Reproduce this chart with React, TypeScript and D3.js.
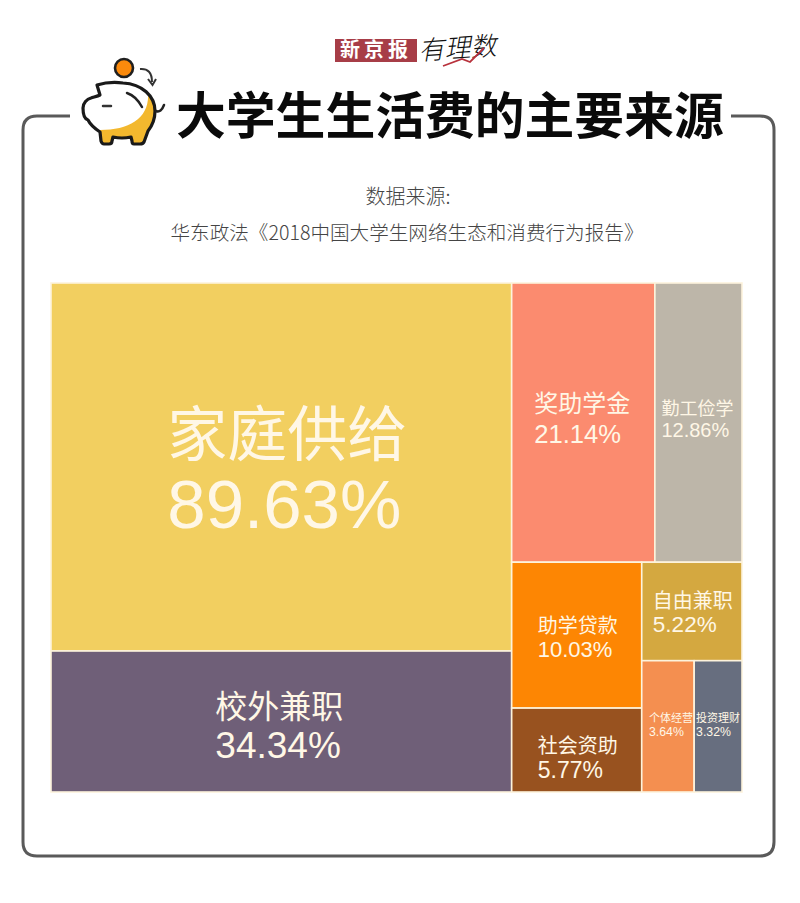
import React from "react";
import * as d3 from "d3";

const CJK = '"Noto Sans CJK SC", sans-serif';
const LATIN = '"Liberation Sans", Arial, sans-serif';

const title = "大学生生活费的主要来源";
const sourceLines = ["数据来源:", "华东政法《2018中国大学生网络生态和消费行为报告》"];
const brandName = "新京报";
const brandTag = "有理数";

const leftNames = ["家庭供给", "校外兼职"];
const leftValues = [89.63, 34.34];
const topRightNames = ["奖助学金", "勤工俭学"];
const topRightValues = [21.14, 12.86];
const midNames = ["助学贷款", "社会资助"];
const midValues = [10.03, 5.77];
const sideTopNames = ["自由兼职"];
const sideTopValues = [5.22];
const sideBottomNames = ["个体经营", "投资理财"];
const sideBottomValues = [3.64, 3.32];

const colors: Record<string, string> = {
  家庭供给: "#f2cf60",
  校外兼职: "#6f5f78",
  奖助学金: "#fb8b6f",
  勤工俭学: "#bdb6a9",
  助学贷款: "#fd8603",
  社会资助: "#98521f",
  自由兼职: "#d4a840",
  个体经营: "#f48f50",
  投资理财: "#676e7f",
};

// label styling: cn size, number size, x offset from cell centre, cn baseline / number baseline offset from cell centre
const labelStyle: Record<string, [number, number, number, number, number]> = {
  家庭供给: [60, 69, 6, -11, 61],
  校外兼职: [32, 37, -2, -4, 36],
  奖助学金: [24, 25.6, -1, -11, 20],
  勤工俭学: [18, 20, -1, -8, 14],
  助学贷款: [20, 22, 1, -2, 22],
  社会资助: [20, 23, 1, 3, 28],
  自由兼职: [20, 22.5, 1, -3, 21],
  个体经营: [11, 12.3, 3, -4, 10],
  投资理财: [11, 12.3, 0, -4, 10],
};

const leaves = (names: string[], values: number[]) =>
  names.map((name, i) => ({ name, value: values[i] }));

const treeData = {
  name: "root",
  children: [
    { name: "left", children: leaves(leftNames, leftValues) },
    {
      name: "right",
      children: [
        { name: "top", children: leaves(topRightNames, topRightValues) },
        {
          name: "bottom",
          children: [
            { name: "mid", children: leaves(midNames, midValues) },
            {
              name: "side",
              children: [
                { name: "sideTop", children: leaves(sideTopNames, sideTopValues) },
                { name: "sideBottom", children: leaves(sideBottomNames, sideBottomValues) },
              ],
            },
          ],
        },
      ],
    },
  ],
};

const X0 = 51, Y0 = 283, X1 = 742, Y1 = 792;

const tile = (node: any, x0: number, y0: number, x1: number, y1: number) => {
  const name = node.data.name;
  const horizontal = ["root", "top", "bottom", "sideBottom"].includes(name);
  (horizontal ? d3.treemapDice : d3.treemapSlice)(node, x0, y0, x1, y1);
};

const root = d3
  .treemap<any>()
  .tile(tile as any)
  .size([X1 - X0, Y1 - Y0])
  .round(false)(d3.hierarchy<any>(treeData).sum((d: any) => d.value || 0));

const Piggy = () => (
  <g>
    <defs>
      <clipPath id="pigClip">
        <path id="pigBody" d="M97 85 C107 82 115 82 123 83 C142 84 155 96 155 111 C155 119 152 126 148 131 L144 142 Q143 144 140 144 L134 144 Q132 144 132 141 L131 137 Q122 139 113 137 L112 141 Q112 144 109 144 L104 144 Q102 144 101 141 L100 132 C94 128 90 124 88 120 C84 119 83 114 83 108 C83 103 87 99 91 98 C94 97 98 96 100 95 Z" />
      </clipPath>
    </defs>
    <path d="M97 85 C107 82 115 82 123 83 C142 84 155 96 155 111 C155 119 152 126 148 131 L144 142 Q143 144 140 144 L134 144 Q132 144 132 141 L131 137 Q122 139 113 137 L112 141 Q112 144 109 144 L104 144 Q102 144 101 141 L100 132 C94 128 90 124 88 120 C84 119 83 114 83 108 C83 103 87 99 91 98 C94 97 98 96 100 95 Z" fill="#fff" />
    <g clipPath="url(#pigClip)">
      <path d="M148 92 C150 118 130 130 100 130 L96 150 L160 150 L162 92 Z" fill="#f3b82e" />
    </g>
    <path d="M97 85 C107 82 115 82 123 83 C142 84 155 96 155 111 C155 119 152 126 148 131 L144 142 Q143 144 140 144 L134 144 Q132 144 132 141 L131 137 Q122 139 113 137 L112 141 Q112 144 109 144 L104 144 Q102 144 101 141 L100 132 C94 128 90 124 88 120 C84 119 83 114 83 108 C83 103 87 99 91 98 C94 97 98 96 100 95 Z" fill="none" stroke="#1a1a1a" strokeWidth={3.2} strokeLinejoin="round" />
    <path d="M103 106 L111 106" stroke="#333" strokeWidth={2.5} strokeLinecap="round" />
    <path d="M127 93 Q136 96 142 107" fill="none" stroke="#222" strokeWidth={2.5} strokeLinecap="round" />
    <path d="M156 111 Q161 113 164 105" fill="none" stroke="#222" strokeWidth={2.5} strokeLinecap="round" />
    <circle cx={124} cy={68} r={9} fill="#fb8a0c" stroke="#1f1f1f" strokeWidth={2.6} />
    <path d="M140 69 Q152 68 152 82" fill="none" stroke="#333" strokeWidth={2} />
    <path d="M148 79 L152.5 85 L156 79" fill="none" stroke="#333" strokeWidth={2} />
  </g>
);

export default function App() {
  return (
    <svg
      width={800}
      height={903}
      viewBox="0 0 800 903"
      style={{ position: "absolute", left: 0, top: 0, background: "#fff" }}
    >
      <path
        d="M70 116 L37 116 Q23 116 23 130 L23 842 Q23 856 37 856 L760 856 Q774 856 774 842 L774 130 Q774 116 760 116 L731 116"
        fill="none"
        stroke="#5a5a5a"
        strokeWidth={3}
      />
      <rect x={335} y={39} width={82} height={23} fill="#a73d47" />
      <text x={376} y={57} textAnchor="middle" fontFamily={CJK} fontWeight={700} fontSize={20} letterSpacing={4} fill="#fff">
        {brandName}
      </text>
      <text x={420} y={60} transform="rotate(-4 420 60) skewX(-14)" dx={14} fontFamily={CJK} fontWeight={300} fontSize={26} fill="#111">
        {brandTag}
      </text>
      <path d="M443 66 L462 59 L470 62 L484 48" fill="none" stroke="#b8323c" strokeWidth={1.8} />
      <Piggy />
      <text x={176} y={134} fontFamily={CJK} fontWeight={700} fontSize={49.8} fill="#0a0a0a">
        {title}
      </text>
      <text x={408} y={204} textAnchor="middle" fontFamily={CJK} fontWeight={300} fontSize={20} fill="#444">
        {sourceLines[0]}
      </text>
      <text x={407} y={240} textAnchor="middle" fontFamily={CJK} fontWeight={300} fontSize={19.6} fill="#444">
        {sourceLines[1]}
      </text>
      <g transform={`translate(${X0},${Y0})`}>
        {root.leaves().map((n: any) => {
          const name = n.data.name as string;
          const [fs, ns, dx, cy, vy] = labelStyle[name];
          const mx = (n.x0 + n.x1) / 2;
          const my = (n.y0 + n.y1) / 2;
          const tx = mx + dx - 2 * fs;
          return (
            <g key={name}>
              <rect
                x={n.x0}
                y={n.y0}
                width={n.x1 - n.x0}
                height={n.y1 - n.y0}
                fill={colors[name]}
                stroke="#fdf3dc"
                strokeWidth={1.6}
              />
              <text x={tx} y={my + cy} fontFamily={CJK} fontSize={fs} fill="#fff7e6">
                {name}
              </text>
              <text x={tx} y={my + vy} fontFamily={LATIN} fontSize={ns} fill="#fff7e6">
                {n.data.value.toFixed(2)}%
              </text>
            </g>
          );
        })}
      </g>
    </svg>
  );
}
